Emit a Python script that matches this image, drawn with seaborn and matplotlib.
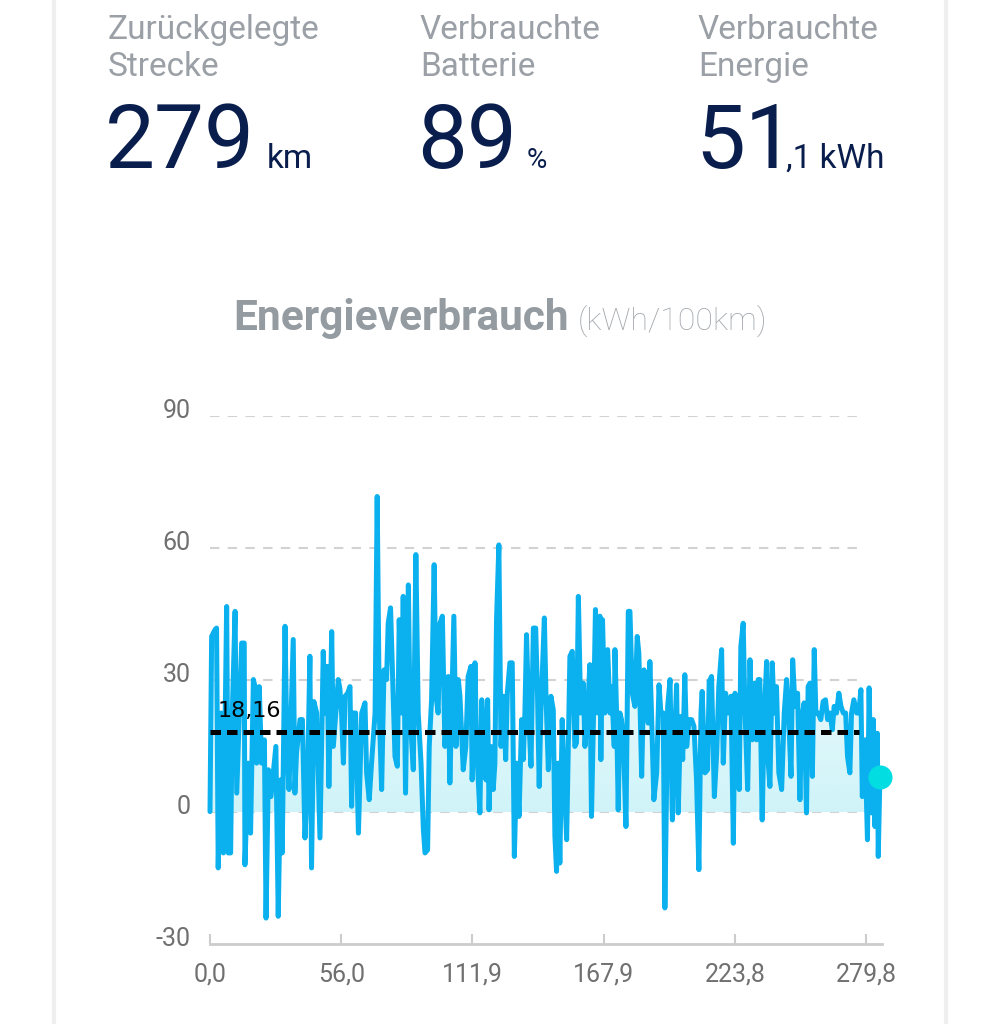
import numpy as np
import matplotlib
matplotlib.use("Agg")
import matplotlib.pyplot as plt
import matplotlib.transforms as mtransforms
from matplotlib.lines import Line2D
import seaborn as sns

# ---------------- data ----------------
distance_km = [
    0.0, 0.7, 2.1, 2.8, 3.5, 4.7, 5.7, 7.1, 7.8, 8.8, 9.5, 10.7, 11.4, 12.5, 13.5, 14.6, 14.9, 16.3, 17.3,
    18.5, 19.2, 19.9, 21.0, 22.0, 23.2, 23.9, 24.9, 26.0, 27.0, 28.1, 29.1, 30.1, 30.8, 32.0, 32.8, 33.7,
    35.5, 36.2, 36.9, 38.4, 39.4, 40.5, 41.6, 42.6, 43.3, 44.3, 45.5, 46.9, 48.3, 49.0, 50.0, 50.7, 51.9,
    52.6,
    54.7, 55.4, 56.1, 56.9, 57.6, 58.7, 59.7, 60.4, 61.1, 62.1, 63.3, 64.7, 66.1, 66.8, 67.9, 68.9, 70.4,
    71.3, 72.2, 73.2, 74.2, 75.3, 76.0, 77.0, 77.7, 78.9, 79.9, 80.7, 81.7, 82.4, 83.4, 84.6, 85.3, 86.7,
    87.8, 88.8, 90.0, 91.0, 91.7, 92.8, 93.5, 94.5, 95.6, 96.4, 97.3, 98.1, 99.1, 100.2, 101.6, 102.3,
    103.0, 104.0, 104.9, 105.9, 106.6, 108.0, 109.1, 110.1, 111.3, 111.8, 112.7,
    113.0, 113.7, 114.4, 115.1, 115.9, 117.0, 117.7, 118.4, 119.0, 119.8, 120.8, 121.5, 122.2, 123.2,
    124.1, 125.1, 126.1, 126.8, 127.9, 128.9, 129.8, 130.8, 131.8, 132.9, 133.6, 134.3, 135.0, 136.0,
    136.9, 137.9, 138.9, 139.7, 140.4, 141.1, 142.6, 143.3, 144.3, 145.4, 146.4, 147.1, 147.8, 148.5,
    149.2, 150.2, 151.1, 152.1, 152.8, 153.5, 154.5, 155.6, 156.3, 157.1, 158.1, 159.2, 159.9, 161.0,
    162.0, 162.7, 163.7, 164.4, 165.3, 166.3, 166.7, 167.4, 168.4, 169.6, 170.6, 171.3, 172.4,
    172.7, 173.4, 174.1, 174.8, 175.5, 176.3, 177.4, 178.4, 179.1, 180.1, 181.2, 182.2, 182.9, 184.1,
    185.1, 186.2, 186.9, 187.6, 188.3, 189.3, 190.5, 191.5, 192.3, 193.3, 194.0, 195.2, 196.2, 197.2,
    198.0, 199.0, 199.7, 200.7, 201.6, 202.5, 203.3, 204.3, 205.4, 206.4, 207.5, 208.5, 209.4, 209.9,
    211.1, 212.2, 212.9, 213.9, 215.1, 216.1, 217.0, 218.2, 218.9, 219.9, 221.0, 222.2, 223.2, 223.9,
    225.0, 225.7, 226.4, 227.4, 228.1, 229.3, 230.3, 231.3,
    232.4, 233.1, 233.8, 234.5, 235.5, 236.4, 237.4, 238.1, 238.8, 239.8, 240.6, 241.6, 242.6, 243.8,
    244.9, 245.9, 246.6, 247.8, 248.5, 249.5, 250.6, 251.6, 252.3, 253.4, 254.4, 255.1, 255.9, 256.9,
    257.7, 258.4, 259.4, 260.5, 261.5, 262.5, 263.4, 264.4, 265.4, 266.2, 267.2, 268.2, 269.1, 270.1,
    271.1, 271.9, 272.9, 273.6, 274.6, 275.8, 276.7, 277.6, 278.2, 279.3, 280.4, 281.1, 282.1, 282.9,
    283.6, 284.6, 285.0, 285.7,
]
consumption = [
    0.1, 39.9, 41.4, 41.8, -12.7, 22.5, -9.3, 46.7, -9.3, -9.3, 22.5, 45.6, 4.3, 22.5, 38.4, 38.4, -12.0, 11.1, -4.8,
    30.1, 28.5, 11.1, 28.5, 11.1, 16.4, -24.1, 9.6, 3.5, 8.9, 14.9, -23.7, 7.3, -9.3, 42.2, 14.9, 5.1,
    39.2, 4.3, 13.4, 21.0, 21.0, -5.9, 7.3, 35.4, -12.7, 25.1, 22.5, -5.9, 36.5, 22.5, 33.1, 5.8, 41.0,
    14.9,
    30.1, 28.0, 22.5, 11.1, 26.3, 27.0, 28.5, 1.3, 22.5, 22.5, -4.8, 22.5, 24.8, 8.9, 2.8, 11.1, 22.5,
    71.7, 22.5, 5.1, 32.3, 30.1, 42.9, 46.4, 33.9, 12.6, 10.4, 43.7, 22.5, 49.0, 4.3, 51.6, 22.5, 9.6,
    58.5, 22.5, 11.1, -4.0, -9.3, -8.6, 14.9, 25.5, 56.2, 26.3, 22.5, 42.9, 44.5, 14.9, 30.8, 6.6,
    22.5, 44.5, 14.9, 30.1, 26.3, 9.6, 14.9, 30.8, 33.1, 7.3, 22.5,
    33.9, 14.9, 7.3, -0.2, 25.5, 14.9, 7.3, 25.5, 0.5, 14.9, 5.1, 11.1, 43.7, 60.7,
    14.9, 26.3, 11.9, 27.0, 33.9, 33.9, -10.1, 11.1, -1.0, 21.0, 11.9, 22.5, 40.3, 21.0,
    10.4, 41.8, 41.8, 26.3, 5.8, 22.5, 44.1, 26.3, 9.6, 26.3, 23.2, -5.5, -13.5, 11.1,
    -11.6, 21.0, 7.3, -6.3, 14.9, 35.4, 36.5, 14.9, 15.7, 49.0, 22.5, 29.3, 14.9, 22.5,
    33.5, -1.0, 25.5, 46.0, 22.5, 44.5, 11.9, 43.7, 22.5, 36.9, 22.5, 28.5, 14.9,
    36.9, 22.5, 0.5, 22.5, 21.0, 16.4, -3.3, 45.6, 45.6, 27.0, 24.0, 39.9, 36.1, 8.1,
    32.3, 30.1, 20.2, 34.2, 22.5, 2.8, 8.9, 28.9, 22.5, 22.5, -21.8, 24.0, 30.1, -1.8,
    14.9, 28.9, -0.2, 21.7, 11.9, 31.2, 14.9, 21.0, 21.0, 19.5, 7.3, -13.1, 22.5, 27.4,
    8.9, 9.6, 29.7, 30.8, 3.5, 13.4, 28.5, 36.9, 11.1, 27.0, 22.5, 26.3, -7.1, 27.0,
    14.9, 5.1, 37.6, 42.9, 24.0, 5.1, 34.6, 16.4,
    29.3, 16.4, 30.1, 30.1, -1.8, 22.5, 34.2, 11.1, 5.8, 33.9, 22.5, 28.5, 8.9, 5.1,
    22.5, 30.1, 24.0, 8.1, 34.6, 24.0, 27.0, 2.8, 21.0, 24.8, -0.2, 28.5, 29.3, 8.1,
    36.9, 22.5, 22.5, 21.0, 25.1, 25.5, 21.0, 22.5, 18.7, 24.0, 22.5, 27.0, 24.0, 22.5,
    22.5, 12.6, 8.9, 22.5, 25.5, 22.5, 22.5, 27.8, 3.5, 16.4, -6.3, 28.2, -0.2, 21.0,
    -3.3, 17.9, -10.1, 7.9,
]
average = 18.16
x_ticks = [0.0, 55.96, 111.92, 167.88, 223.84, 279.8]
x_tick_labels = ["0,0", "56,0", "111,9", "167,9", "223,8", "279,8"]
y_ticks = [-30, 0, 30, 60, 90]
grid_values = [0, 30, 60, 90]

stat_labels = [("Zurückgelegte", "Strecke"), ("Verbrauchte", "Batterie"), ("Verbrauchte", "Energie")]
stat_values = ["279", "89", "51"]
stat_units = ["km", "%", ",1 kWh"]

title = "Energieverbrauch"
subtitle = "(kWh/100km)"

# ---------------- style ----------------
sns.set_theme(style="white")
plt.rcParams["font.family"] = ["Roboto", "DejaVu Sans"]

LINE_C = "#0bb0ef"
DOT_C = "#02dde2"
LABEL_GRAY = "#9aa0a6"
NAVY = "#0a1e4e"
TICK_GRAY = "#707070"

W, H = 1000, 1024
fig = plt.figure(figsize=(W / 100, H / 100), dpi=100)
fig.patch.set_facecolor("white")

def fx(px):
    return px / W

def fy(py):
    return 1 - py / H

# card edges (subtle shadow)
for xe in (54, 946):
    fig.add_artist(Line2D([fx(xe), fx(xe)], [0, 1], transform=fig.transFigure,
                          color="#efefef", lw=3, zorder=0))

# header stats
col_x = [108, 420, 698]
unit_x = [267, 527, 786]
unit_size = [24, 20, 24]
for i in range(3):
    fig.text(fx(col_x[i]), fy(39), stat_labels[i][0], fontsize=24, color=LABEL_GRAY,
             fontweight="normal", va="baseline", ha="left")
    fig.text(fx(col_x[i]), fy(76), stat_labels[i][1], fontsize=24, color=LABEL_GRAY,
             fontweight="normal", va="baseline", ha="left")
    fig.text(fx(col_x[i] - 3), fy(168), stat_values[i], fontsize=64, color=NAVY,
             fontweight="normal", va="baseline", ha="left")
    fig.text(fx(unit_x[i]), fy(168), stat_units[i], fontsize=unit_size[i], color=NAVY,
             fontweight="normal", va="baseline", ha="left")

# title
fig.text(fx(233), fy(330), title, fontsize=30.5, color="#949ba1", fontweight="bold",
         va="baseline", ha="left")
fig.text(fx(578), fy(330), subtitle, fontsize=23, color="#a3a8ad", fontweight="light",
         va="baseline", ha="left")

# ---------------- chart ----------------
ax = fig.add_axes([fx(210), fy(944), fx(882) - fx(210), fy(416) - fy(944)])
ax.set_facecolor("none")

km = np.array(distance_km)
val = np.array(consumption)

# gradient fill under positive part of the line
poly = ax.fill_between(km, 0, np.clip(val, 0, None), color="none", lw=0)
path = poly.get_paths()[0]
ny = 256
alpha = np.linspace(0.95, 0.0, ny) ** 1.3
img = np.zeros((ny, 2, 4))
img[..., 0] = 0.80
img[..., 1] = 0.955
img[..., 2] = 0.975
img[..., 3] = alpha[:, None]
im = ax.imshow(img, extent=[0, 290, 0, 75], origin="lower", aspect="auto", zorder=1,
               interpolation="bilinear")
im.set_clip_path(path, ax.transData)

# grid lines
ax.hlines(grid_values, 0, 276, colors="#d2d2d2", lw=1.5, linestyles=(0, (4.5, 4)), zorder=0.5)

# main line
sns.lineplot(x=km, y=val, ax=ax, color=LINE_C, linewidth=3.6, sort=False, estimator=None,
             zorder=2)
for ln in ax.lines:
    ln.set_solid_joinstyle("round")
    ln.set_solid_capstyle("round")
    ln.set_clip_on(False)

# average line
ax.plot([0, 277], [average, average], color="black", lw=3.6, ls=(0, (2.1, 1.2)), zorder=3,
        clip_on=False)
ax.text(3.3, 21.6, f"{average:.2f}".replace(".", ","), fontsize=16, color="black",
        family=["DejaVu Sans"], va="baseline", ha="left", zorder=5)

# last point marker
ax.scatter([km[-1]], [val[-1]], s=300, color=DOT_C, zorder=4, clip_on=False, linewidths=0)

ax.set_xlim(0, 286.6)
ax.set_ylim(-30, 90)

for s in ("top", "left", "right"):
    ax.spines[s].set_visible(False)
ax.spines["bottom"].set_color("#cccccc")
ax.spines["bottom"].set_linewidth(2)

ax.set_xticks(x_ticks, x_tick_labels)
ax.set_yticks(y_ticks, [str(v) for v in y_ticks])
ax.tick_params(axis="x", direction="in", length=7, width=1.5, color="#cccccc",
               labelcolor=TICK_GRAY, labelsize=18, pad=13, bottom=True)
ax.tick_params(axis="y", length=0, labelcolor=TICK_GRAY, labelsize=18, pad=14, left=False)
offset = mtransforms.ScaledTranslation(0, 7 / 100, fig.dpi_scale_trans)
for lab in ax.get_yticklabels():
    lab.set_transform(lab.get_transform() + offset)
ax.grid(False)
ax.set_xlabel("")
ax.set_ylabel("")

fig.savefig("out.png", dpi=100, facecolor="white")
